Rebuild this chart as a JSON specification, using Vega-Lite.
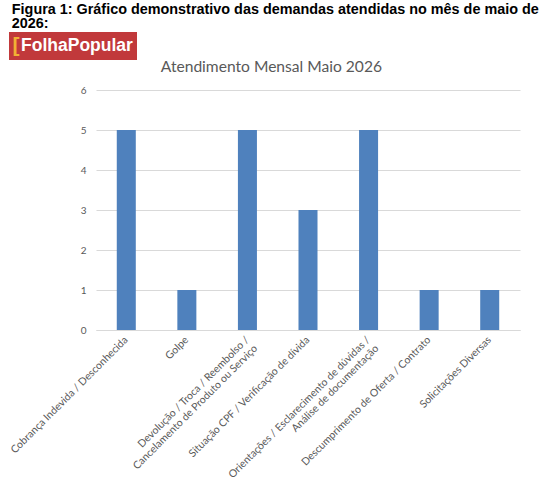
{
  "$schema": "https://vega.github.io/schema/vega-lite/v6.json",
  "background": "white",
  "padding": {"left": 8, "top": 1, "right": 5, "bottom": 5},
  "title": {
    "text": ["Figura 1: Gráfico demonstrativo das demandas atendidas no mês de maio de", "2026:"],
    "anchor": "start",
    "frame": "bounds",
    "font": "Liberation Sans",
    "fontSize": 14.4,
    "fontWeight": "bold",
    "color": "#000000",
    "lineHeight": 14,
    "offset": 1,
    "dx": 3
  },
  "spacing": 0,
  "vconcat": [
    {
      "width": 128,
      "height": 28,
      "data": {"values": [{"marca": "FolhaPopular", "colchete": "["}]},
      "layer": [
        {"mark": {"type": "rect", "color": "#c1393b", "width": 128, "height": 28, "xOffset": -151, "yOffset": 14}, "encoding": {}},
        {
          "mark": {"type": "text", "color": "#f2b134", "font": "Liberation Sans", "fontSize": 21, "fontWeight": "bold", "dx": -144, "baseline": "middle"},
          "encoding": {"text": {"field": "colchete"}}
        },
        {
          "mark": {"type": "text", "color": "#ffffff", "font": "Liberation Sans", "fontSize": 17.5, "fontWeight": "bold", "dx": -83, "baseline": "middle"},
          "encoding": {"text": {"field": "marca"}}
        }
      ]
    },
    {
      "width": 424,
      "height": 240,
      "title": {
        "text": "Atendimento Mensal Maio 2026",
        "frame": "bounds",
        "anchor": "middle",
        "font": "Lato",
        "fontSize": 15.6,
        "fontWeight": "normal",
        "color": "#595959",
        "offset": 9,
        "dx": 7
      },
      "data": {
        "values": [
          {"categoria": "Cobrança Indevida / Desconhecida", "atendimentos": 5},
          {"categoria": "Golpe", "atendimentos": 1},
          {"categoria": "Devolução / Troca / Reembolso /\nCancelamento de Produto ou Serviço", "atendimentos": 5},
          {"categoria": "Situação CPF / Verificação de dívida", "atendimentos": 3},
          {"categoria": "Orientações / Esclarecimento de dúvidas /\nAnálise de documentação", "atendimentos": 5},
          {"categoria": "Descumprimento de Oferta / Contrato", "atendimentos": 1},
          {"categoria": "Solicitações Diversas", "atendimentos": 1}
        ]
      },
      "mark": {"type": "bar", "color": "#4f81bd"},
      "encoding": {
        "x": {
          "field": "categoria",
          "type": "nominal",
          "sort": null,
          "scale": {"paddingInner": 0.686, "paddingOuter": 0.343},
          "axis": {
            "title": null,
            "labelAngle": -45,
            "labelAlign": "right",
            "labelBaseline": "middle",
            "labelExpr": "split(datum.label, '\\n')",
            "labelFont": "Lato",
            "labelFontSize": 10.5,
            "labelColor": "#595959",
            "labelLineHeight": 12,
            "labelPadding": 8,
            "labelLimit": 0,
            "ticks": false,
            "domainColor": "#d9d9d9"
          }
        },
        "y": {
          "field": "atendimentos",
          "type": "quantitative",
          "scale": {"domain": [0, 6]},
          "axis": {
            "title": null,
            "values": [0, 1, 2, 3, 4, 5, 6],
            "domain": false,
            "ticks": false,
            "gridColor": "#d9d9d9",
            "labelColor": "#595959",
            "labelFont": "Lato",
            "labelFontSize": 10,
            "labelPadding": 10,
            "minExtent": 87
          }
        }
      }
    }
  ],
  "config": {"view": {"stroke": null}}
}
